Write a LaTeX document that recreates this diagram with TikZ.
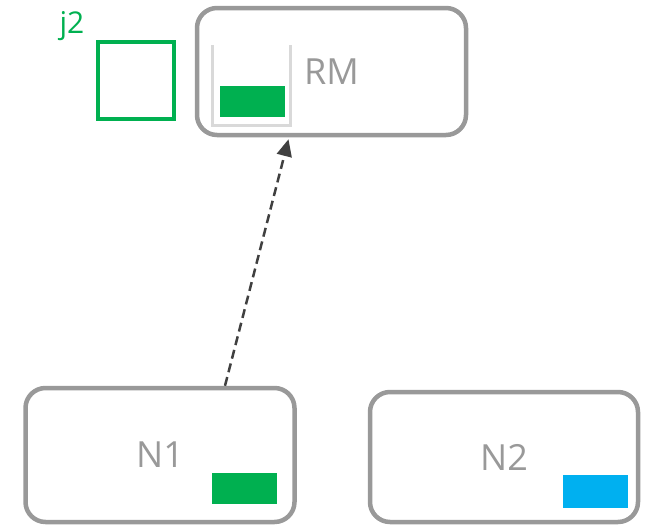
\documentclass[tikz,border=0pt]{standalone}
\usepackage{fontspec}
\setmainfont{Open Sans}
\usetikzlibrary{arrows.meta}
\definecolor{boxgray}{HTML}{999999}
\definecolor{jobgreen}{HTML}{00B050}
\definecolor{jobblue}{HTML}{00B0F0}
\definecolor{bucketgray}{HTML}{D9D9D9}
\definecolor{arrowgray}{HTML}{404040}
\tikzset{
  server/.style={draw=boxgray, line width=4.5pt, rounded corners=20pt,
    fill=white, text=boxgray, font=\fontsize{36}{40}\selectfont, inner sep=0pt},
  slot/.style={inner sep=0pt, minimum width=65pt, minimum height=31pt},
  request/.style={draw=arrowgray, line width=2.5pt, dash pattern=on 9pt off 5pt,
    -{Triangle[length=17pt, width=15pt]}},
}
\begin{document}
\begin{tikzpicture}[x=1pt, y=-1pt]
  \useasboundingbox (0,0) rectangle (651,525);
  % resource manager with its queue
  \node[server, minimum width=269pt, minimum height=127pt] (rm) at (331.5,71.5) {RM};
  \draw[bucketgray, line width=3pt] (212,45) -- (212,125) -- (290,125) -- (290,45);
  \node[slot, fill=jobgreen] (queued) at (252.5,101) {};
  % pending job j2
  \node[draw=jobgreen, line width=3.2pt, minimum width=76pt, minimum height=77pt,
        inner sep=0pt] (j2) at (136,80.5) {};
  \node[text=jobgreen, font=\fontsize{30}{34}\selectfont, inner sep=0pt] (j2label) at (72,26) {j2};
  % worker nodes
  \node[server, minimum width=269pt, minimum height=134pt] (n1) at (160,455) {N1};
  \node[slot, fill=jobgreen] (n1job) at (244,488.5) {};
  \node[server, minimum width=268pt, minimum height=130pt] (n2) at (504,457) {N2};
  \node[slot, fill=jobblue, minimum height=33pt] (n2job) at (595,491) {};
  % request from N1 to RM
  \draw[request] ([xshift=65pt]n1.north) -- ([xshift=-43pt, yshift=-2pt]rm.south);
\end{tikzpicture}
\end{document}
